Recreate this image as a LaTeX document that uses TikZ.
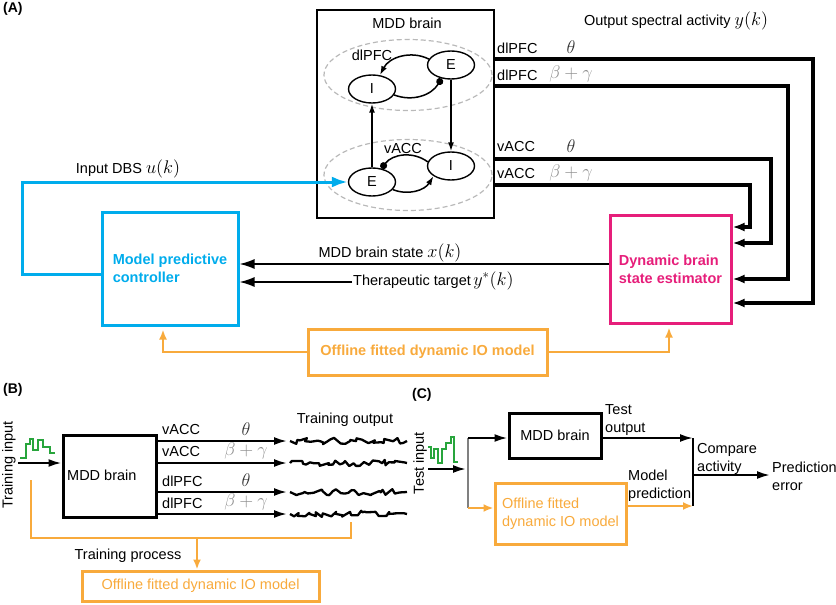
\documentclass[tikz,border=0pt]{standalone}
\usepackage{fontspec}
\usepackage{graphicx}
\setmainfont{Liberation Sans}
\usetikzlibrary{shapes.geometric,arrows.meta,decorations.pathmorphing,calc}
\definecolor{dbsblue}{RGB}{0,172,236}
\definecolor{estmag}{RGB}{230,30,122}
\definecolor{modorange}{RGB}{248,170,60}
\definecolor{stepgreen}{RGB}{40,165,60}
\newcommand{\lgmath}[1]{\scalebox{1.27}{$#1$}}
\tikzset{
  lbl/.style={inner sep=1pt},
  neuron/.style={ellipse, draw, line width=1.4pt, minimum width=47pt, minimum height=28pt, inner sep=0pt},
  region/.style={ellipse, draw=gray!55, dashed, dash pattern=on 5pt off 3pt, line width=1.2pt, minimum width=168pt, minimum height=71pt, inner sep=0pt},
  syn/.style={line width=1.5pt, -{Latex[length=9pt,width=6pt]}},
  inh/.style={line width=1.5pt, -{Circle[length=7pt]}},
  outline/.style={line width=3.3pt, -{Latex[length=12pt,width=9pt]}},
  thinarrow/.style={line width=1.6pt, -{Latex[length=15pt,width=10pt]}},
  arrB/.style={line width=2.1pt, -{Latex[length=13pt,width=8pt]}},
  orline/.style={draw=modorange, line width=2.2pt},
  orarrow/.style={draw=modorange, line width=2.2pt, -{Latex[length=10pt,width=8pt]}, modorange},
  trace/.style={line width=2.3pt, line join=round, decorate, decoration={random steps, segment length=3.6pt, amplitude=3.2pt}},
  stepsig/.style={draw=stepgreen, line width=1.1pt},
}
\begin{document}
\begin{tikzpicture}[x=1pt,y=-1pt, every node/.style={font=\fontsize{14.5}{17.5}\selectfont}]
\useasboundingbox (0,0) rectangle (836,605);
\pgfmathsetseed{4711}
% ---------------- Panel A ----------------
\node[lbl, anchor=west, font=\fontsize{14}{16}\selectfont\bfseries] (labA) at (2,9) {(A)};
\node[draw, line width=2.2pt, minimum width=177pt, minimum height=208pt, inner sep=0pt] (mddA) at (405.5,114) {};
\node[lbl] (mddAlab) at (407,23) {MDD brain};
\node[region] (dlpfc) at (408,75) {};
\node[region] (vacc) at (408,175) {};
\node[lbl] (dlpfcLab) at (372,55) {dlPFC};
\node[lbl] (vaccLab) at (403,149) {vACC};
\node[neuron] (tI) at (372,89) {I};
\node[neuron] (tE) at (451,65) {E};
\node[neuron] (bE) at (372,182) {E};
\node[neuron] (bI) at (451,166) {I};
\draw[syn] (tE.165) to[bend right=45] (tI.60);
\draw[inh] (tI.345) to[bend right=40] (tE.235);
\draw[inh] (bI.170) to[bend right=45] (bE.55);
\draw[syn] (bE.340) to[bend right=40] (bI.210);
\draw[syn] (tE.south) -- (bI.north);
\draw[syn] (bE.north) -- (tI.south);

% outputs
\node[lbl] (outlab) at (676,21) {Output spectral activity \lgmath{y(k)}};
\node[lbl, anchor=west] (o1) at (496,48) {dlPFC};
\node[lbl] (o1m) at (571,47) {\color{black!80}\lgmath{\theta}};
\node[lbl, anchor=west] (o2) at (496,75) {dlPFC};
\node[lbl] (o2m) at (571,74) {\color{black!45}\lgmath{\beta+\gamma}};
\node[lbl, anchor=west] (o3) at (496,147) {vACC};
\node[lbl] (o3m) at (571,146) {\color{black!80}\lgmath{\theta}};
\node[lbl, anchor=west] (o4) at (496,174) {vACC};
\node[lbl] (o4m) at (571,173) {\color{black!45}\lgmath{\beta+\gamma}};

\node[draw=estmag, line width=3pt, minimum width=121pt, minimum height=108pt, inner sep=0pt,
      text=estmag, font=\fontsize{14.5}{18}\selectfont\bfseries, align=left] (est) at (670.5,269) {Dynamic brain\\state estimator};
\node[draw=dbsblue, line width=3pt, minimum width=136pt, minimum height=113pt, inner sep=0pt,
      text=dbsblue, font=\fontsize{14.5}{18}\selectfont\bfseries, align=left] (mpc) at (170,268.5) {Model predictive\\controller};

\draw[outline] (mddA.east |- 0,59) -- (813,59) -- (813,303) -- (est.east |- 0,303);
\draw[outline] (mddA.east |- 0,86) -- (788,86) -- (788,279) -- (est.east |- 0,279);
\draw[outline] (mddA.east |- 0,159) -- (771,159) -- (771,243) -- (est.east |- 0,243);
\draw[outline] (mddA.east |- 0,185) -- (750,185) -- (750,227) -- (est.east |- 0,227);

% input DBS
\draw[dbsblue, line width=3pt, -{Latex[length=16pt,width=11pt]}] (mpc.west |- 0,274) -- (22,274) -- (22,182) -- (bE.west);
\node[lbl] (dbslab) at (128,169) {Input DBS \lgmath{u(k)}};

% state and target
\draw[thinarrow] (est.west |- 0,264) -- (mpc.east |- 0,264);
\node[lbl] (statelab) at (390,253) {MDD brain state \lgmath{x(k)}};
\node[lbl, anchor=west] (ther) at (352,281) {Therapeutic target\,\lgmath{y^*(k)}};
\draw[thinarrow] (ther.west |- 0,282) -- (mpc.east |- 0,282);

% offline model
\node[draw=modorange, line width=3pt, minimum width=239pt, minimum height=46pt, inner sep=0pt,
      text=modorange, font=\fontsize{14.5}{17}\selectfont\bfseries] (offA) at (427.5,352) {Offline fitted dynamic IO model};
\draw[orarrow] (offA.west) -- (163,352) -- ($(mpc.south -| 163,0)+(0,3)$);
\draw[orarrow] (offA.east) -- (669,352) -- ($(est.south -| 669,0)+(0,3)$);

% ---------------- Panel B ----------------
\node[lbl, anchor=west, font=\fontsize{14}{16}\selectfont\bfseries] (labB) at (2,390) {(B)};
\node[draw, line width=3pt, minimum width=93pt, minimum height=82pt, inner sep=0pt] (mddB) at (109.5,476) {};
\node[lbl, anchor=west] (mddBtxt) at (66,475) {MDD brain};
\node[lbl, rotate=90] (trin) at (9,465) {Training input};
\coordinate (trinStart) at (18,463);
\draw[arrB] (trinStart) -- (mddB.west |- trinStart);
\draw[stepsig] (20,458) -- (26,458) -- (26,444) -- (30,444) -- (30,439) -- (33,439) -- (33,450) -- (38,450) -- (38,440) -- (43,440) -- (43,447) -- (50,447) -- (50,453) -- (55,453);

\foreach \yy/\nm/\mm/\cc in {441/vACC/\theta/80, 463/vACC/\beta+\gamma/45, 492/dlPFC/\theta/80, 514/dlPFC/\beta+\gamma/45}{
  \draw[arrB] (mddB.east |- 0,\yy) -- (287,\yy);
  \node[lbl, anchor=west] at (161,\yy-11) {\nm};
  \node[lbl] at (246,\yy-12) {\color{black!\cc}\lgmath{\mm}};
}
\draw[trace] (290,441) -- (407,441);
\draw[trace] (290,463) -- (407,463);
\draw[trace] (290,492) -- (407,492);
\draw[trace] (290,514) -- (407,514);
\node[lbl] (trout) at (345,420) {Training output};

\draw[orline] (31,480) -- (31,538) -- (351,538) -- (351,522);
\node[draw=modorange, line width=3pt, minimum width=237pt, minimum height=30pt, inner sep=0pt, text=modorange] (offB) at (200.5,586) {Offline fitted dynamic IO model};
\draw[orarrow] (197,538) -- (offB.north -| 197,0);
\node[lbl] (trproc) at (128,556) {Training process};

% ---------------- Panel C ----------------
\node[lbl, anchor=west, font=\fontsize{14}{16}\selectfont\bfseries] (labC) at (411,395) {(C)};
\node[lbl, rotate=90] (tein) at (420,463) {Test input};
\draw[stepsig] (428,447) -- (431,447) -- (431,458) -- (434,458) -- (434,449) -- (438,449) -- (438,463) -- (442,463) -- (442,449) -- (446,449) -- (446,443) -- (451,443) -- (451,437) -- (454,437) -- (454,462) -- (458,462);
\coordinate (teStart) at (428,469);
\coordinate (splitTop) at (468,438);
\coordinate (splitBot) at (468,508);
\draw[arrB] (teStart) -- (466,469);
\draw[gray, line width=2pt] (splitTop) -- (splitBot);
\node[draw, line width=3pt, minimum width=92pt, minimum height=45pt, inner sep=0pt] (mddC) at (555,435.5) {MDD brain};
\node[draw=modorange, line width=3pt, minimum width=131pt, minimum height=61pt, inner sep=0pt, text=modorange, align=left] (offC) at (560.5,513.5) {Offline fitted\\dynamic IO model};
\draw[arrB] (splitTop) -- (mddC.west |- splitTop);
\draw[orarrow] (splitBot) -- (offC.west |- splitBot);
\coordinate (cmpTop) at (693,438);
\coordinate (cmpBot) at (693,506);
\coordinate (cmpMid) at (693,475);
\draw[arrB] (mddC.east |- cmpTop) -- (cmpTop);
\draw[orarrow] (offC.east |- cmpBot) -- (cmpBot);
\draw[line width=2pt] (cmpTop) -- (cmpBot);
\draw[arrB] (cmpMid) -- (770,475);
\node[lbl, anchor=west, align=left, font=\fontsize{14.5}{18}\selectfont] (testout) at (604,420) {Test\\output};
\node[lbl, anchor=west, align=left, font=\fontsize{14.5}{18}\selectfont] (modpred) at (627,486) {Model\\prediction};
\node[lbl, anchor=west, align=left, font=\fontsize{14.5}{18}\selectfont] (cmp) at (696,459) {Compare\\activity};
\node[lbl, anchor=west, align=left, font=\fontsize{14.5}{18}\selectfont] (prederr) at (771,476) {Prediction\\error};
\end{tikzpicture}
\end{document}
